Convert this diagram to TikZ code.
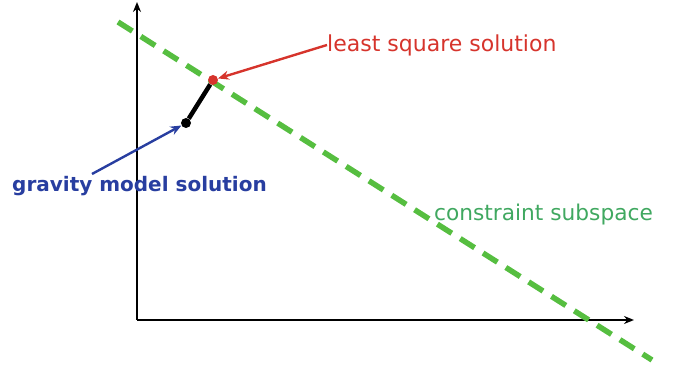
\documentclass[tikz,border=0pt]{standalone}
\usepackage{fontspec}
\setmainfont{DejaVu Sans}
\newfontfamily\boldsans{DejaVu Sans Bold}
\usetikzlibrary{arrows.meta}
\definecolor{lsred}{RGB}{214,52,44}
\definecolor{gmblue}{RGB}{40,62,160}
\definecolor{csgreen}{RGB}{86,190,64}
\definecolor{cstext}{RGB}{64,168,96}
\tikzset{
  axis/.style={line width=2.8pt, -{Stealth[length=10pt,width=8pt]}},
  constraint/.style={csgreen, line width=5.5pt, dash pattern=on 17pt off 10pt},
  pointer/.style={line width=2.4pt, -{Stealth[length=11pt,width=9pt]}},
  label/.style={inner sep=0pt, anchor=west},
}
\begin{document}
\begin{tikzpicture}[x=1pt,y=-1pt]
\useasboundingbox (0,0) rectangle (681,366);
\coordinate (O) at (137,320);
\coordinate (ytop) at (137,2);
\coordinate (xend) at (634,320);
\draw[axis] (O) -- (ytop);
\draw[axis] (O) -- (xend);
\coordinate (cs1) at (118,22);
\coordinate (cs2) at (652,360);
\draw[constraint] (cs1) -- (cs2);
\node[circle, fill=black, inner sep=0pt, minimum size=10pt] (gm) at (186,123) {};
\node[circle, fill=lsred, inner sep=0pt, minimum size=10pt] (ls) at (213,80) {};
\draw[line width=4.5pt] (gm) -- (ls);
\node[label, text=lsred, font=\fontsize{22}{22}\selectfont] (lst) at (327,45) {least square solution};
\node[label, text=gmblue, font=\boldsans\fontsize{20}{20}\selectfont] (gmt) at (12,186) {gravity model solution};
\node[label, text=cstext, font=\fontsize{21.7}{22}\selectfont] (cst) at (434,215) {constraint subspace};
\draw[pointer, lsred] (lst.west) -- (ls);
\draw[pointer, gmblue] (92,174) -- (gm);
\end{tikzpicture}
\end{document}
